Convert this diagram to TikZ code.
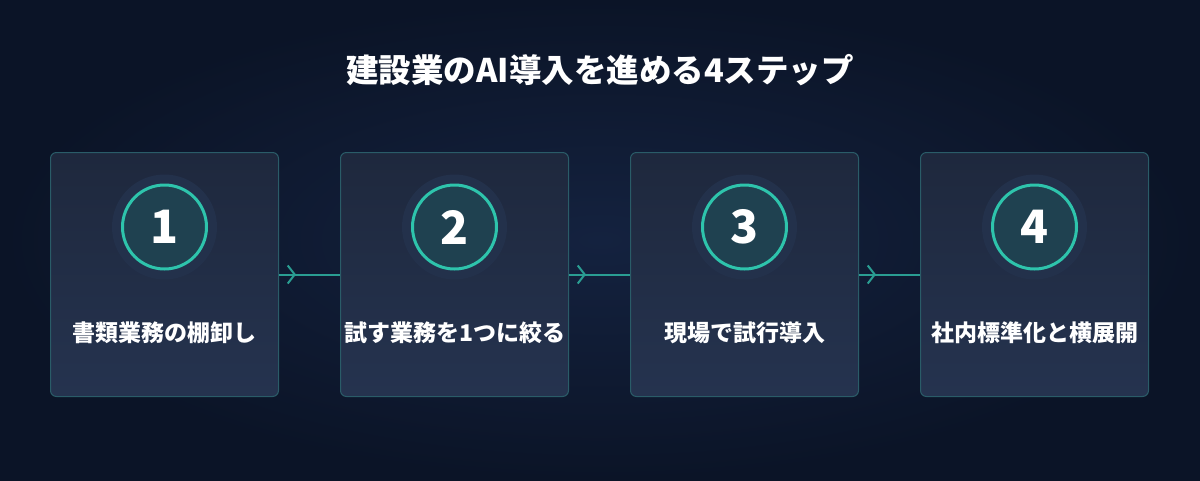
\documentclass[tikz,border=0pt]{standalone}
\usepackage{fontspec}
\setmainfont{Noto Sans CJK JP}
\usetikzlibrary{positioning,arrows.meta,decorations.markings}
%
\definecolor{bgInner}{HTML}{14223F}
\definecolor{bgOuter}{HTML}{0B1427}
\definecolor{cardA}{HTML}{1E283D}
\definecolor{cardB}{HTML}{25334F}
\definecolor{cardLine}{HTML}{2A5C68}
\definecolor{halo}{HTML}{23314B}
\definecolor{ringFill}{HTML}{1F4150}
\definecolor{ring}{HTML}{2EC4AC}
\definecolor{flowLine}{HTML}{2A9D92}
%
\tikzset{
  card/.style={rectangle, rounded corners=6pt, draw=cardLine, line width=1pt,
               top color=cardA, bottom color=cardB,
               minimum width=228pt, minimum height=244pt, inner sep=0pt},
  halo/.style={circle, fill=halo, minimum size=105pt, inner sep=0pt},
  ring/.style={circle, draw=ring, line width=3pt, fill=ringFill,
               minimum size=84pt, inner sep=0pt, text=white,
               font=\bfseries\fontsize{46}{46}\selectfont},
  steplabel/.style={text=white, font=\bfseries\fontsize{23}{27}\selectfont},
  flow/.style={draw=flowLine, line width=2pt,
               postaction={decorate},
               decoration={markings, mark=at position 17pt with
                 {\arrow[flowLine, line width=2pt]{Straight Barb[length=7pt, width=18pt]}}}},
}
\begin{document}
\begin{tikzpicture}[x=1pt,y=-1pt]%{{{
\useasboundingbox (0,0) rectangle (1200,480);
%
% Fond
\shade [inner color=bgInner, outer color=bgOuter] (0,0) rectangle (1200,480);
%
% Titre
\node (title) [text=white, font=\bfseries\fontsize{32.5}{38}\selectfont]
      at (600,70) {建設業のAI導入を進める4ステップ};
%
% Cartes
\node [card] (c1) at (164.5,274.5) {};
\node [card, right=61pt of c1] (c2) {};
\node [card, right=61pt of c2] (c3) {};
\node [card, right=61pt of c3] (c4) {};
%
% Numéros et textes
\foreach \i/\txt in {1/書類業務の棚卸し, 2/試す業務を1つに絞る,
                     3/現場で試行導入, 4/社内標準化と横展開} {
  \node [halo] (h\i) at ([yshift=47.5pt]c\i.center) {};
  \node [ring] (n\i) at (h\i) {\i};
  \node [steplabel] (t\i) at ([yshift=-58.5pt]c\i.center) {\txt};
}
%
% Liaisons
\foreach \a/\b in {1/2, 2/3, 3/4} \path [flow] (c\a.east) -- (c\b.west);
%
\end{tikzpicture}
\end{document}
